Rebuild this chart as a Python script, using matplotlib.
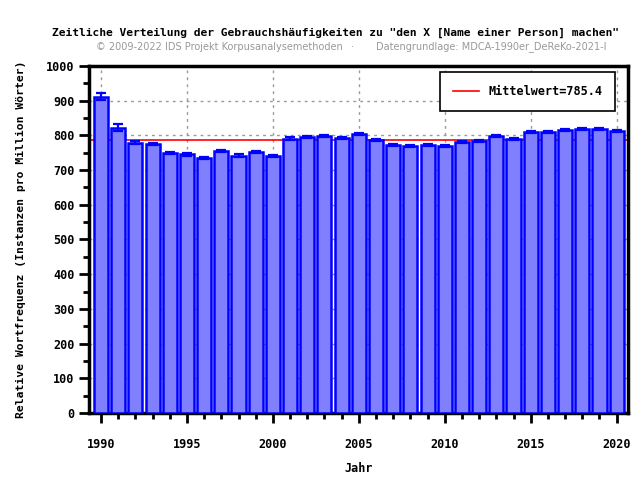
import matplotlib
matplotlib.use("Agg")
import matplotlib.pyplot as plt
from matplotlib.ticker import MultipleLocator

# data
jahre = list(range(1990, 2021))
werte = [911, 822, 779, 775, 749, 746, 735, 755, 742, 751, 740,
         791, 795, 797, 792, 804, 787, 772, 769, 772, 769,
         781, 784, 798, 789, 810, 810, 815, 818, 818, 813]
fehler = [10, 10, 4, 4, 4, 4, 3, 4, 3, 3, 3,
          3, 3, 3, 3, 3, 3, 3, 3, 3, 3,
          3, 3, 3, 3, 3, 3, 3, 3, 3, 3]
mittelwert = 785.4

mono = "DejaVu Sans Mono"

fig = plt.figure(figsize=(6.4, 4.8), dpi=100)
ax = fig.add_axes([0.139, 0.1396, 0.842, 0.7229])

ax.bar(jahre, werte, width=0.82, color="#8080ff", edgecolor="#0000ff",
       linewidth=1.8, zorder=3)
ax.errorbar(jahre, werte, yerr=fehler, fmt="none", ecolor="#0000ff",
            elinewidth=1.6, capsize=3.5, capthick=1.6, zorder=4)
ax.plot([1989.3, 2020.7], [mittelwert, mittelwert], color="red", lw=1.2,
        zorder=2, label="Mittelwert=%.1f" % mittelwert)

ax.set_xlim(1989.3, 2020.65)
ax.set_ylim(0, 1000)
ax.xaxis.set_major_locator(MultipleLocator(5))
ax.xaxis.set_minor_locator(MultipleLocator(1))
ax.yaxis.set_major_locator(MultipleLocator(100))
ax.yaxis.set_minor_locator(MultipleLocator(50))
ax.tick_params(which="major", length=7, width=2, labelsize=8.5)
ax.tick_params(which="minor", length=4, width=2)
ax.tick_params(axis="x", which="major", pad=11)
for lab in ax.get_xticklabels() + ax.get_yticklabels():
    lab.set_fontfamily(mono)
    lab.set_fontweight("bold")

ax.grid(True, which="major", color="#999999", linestyle=(0, (2, 3)), lw=1, zorder=0)
for s in ax.spines.values():
    s.set_linewidth(2.5)

ax.set_xlabel("Jahr", fontfamily=mono, fontweight="bold", fontsize=8.5, labelpad=8)
ax.set_ylabel("Relative Wortfrequenz (Instanzen pro Million Wörter)",
              fontfamily=mono, fontweight="bold", fontsize=8.2, labelpad=14)

leg = ax.legend(loc="upper right", prop={"family": mono, "weight": "bold", "size": 8.5},
                fancybox=False, edgecolor="black", framealpha=1, borderpad=1.1,
                handlelength=2.2, bbox_to_anchor=(0.988, 1.0))
leg.get_frame().set_linewidth(1.2)

fig.text(52 / 640, 1 - 33 / 480,
         'Zeitliche Verteilung der Gebrauchshäufigkeiten zu "den X [Name einer Person] machen"',
         fontfamily=mono, fontweight="bold", fontsize=8.1, va="center", ha="left")
fig.text(96 / 640, 1 - 47 / 480, "© 2009-2022 IDS Projekt Korpusanalysemethoden",
         fontsize=7, color="#999999", va="center", ha="left")
fig.text(352 / 640, 1 - 47 / 480, "·", fontsize=7, color="#999999",
         va="center", ha="center")
fig.text(376 / 640, 1 - 47 / 480, "Datengrundlage: MDCA-1990er_DeReKo-2021-I",
         fontsize=7, color="#999999", va="center", ha="left")

fig.savefig("out.png", dpi=100)
